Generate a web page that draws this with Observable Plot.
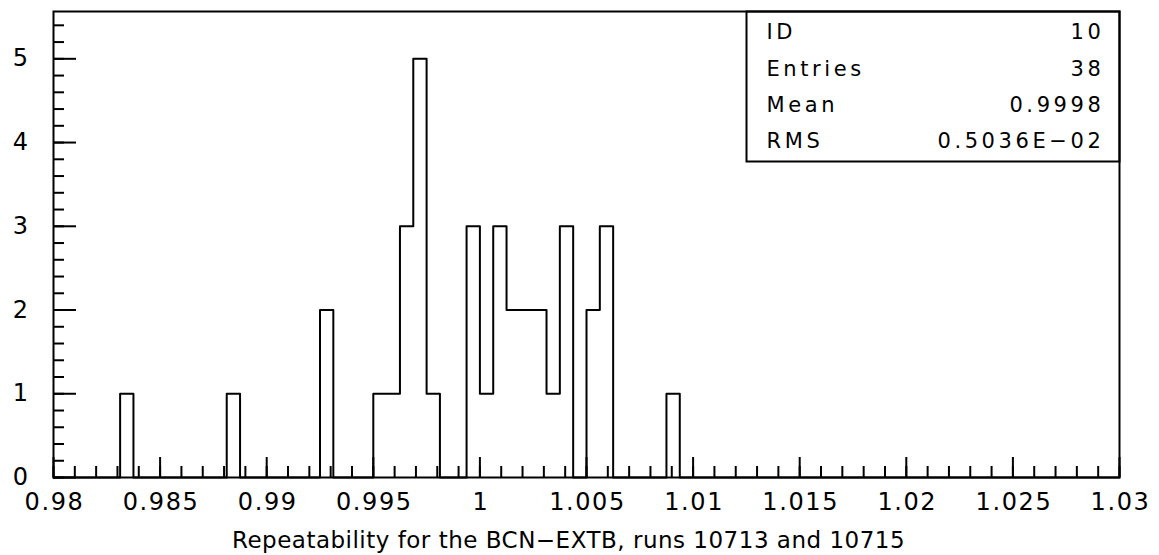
<!DOCTYPE html>
<html>
<head>
<meta charset="utf-8">
<script src="https://cdn.jsdelivr.net/npm/d3@7"></script>
<script src="https://cdn.jsdelivr.net/npm/@observablehq/plot@0.6"></script>
<style>
  html, body { margin: 0; padding: 0; background: #fff; }
  #chart svg { display: block; }
</style>
</head>
<body>
<div id="chart"></div>
<script>
// Histogram ID 10: 80 bins between 0.98 and 1.03
const histLow = 0.98;
const histHigh = 1.03;
const binCounts = [
  0, 0, 0, 0, 0, 1, 0, 0, 0, 0,
  0, 0, 0, 1, 0, 0, 0, 0, 0, 0,
  2, 0, 0, 0, 1, 1, 3, 5, 1, 0,
  0, 3, 1, 3, 2, 2, 2, 1, 3, 0,
  2, 3, 0, 0, 0, 0, 1, 0, 0, 0,
  0, 0, 0, 0, 0, 0, 0, 0, 0, 0,
  0, 0, 0, 0, 0, 0, 0, 0, 0, 0,
  0, 0, 0, 0, 0, 0, 0, 0, 0, 0
];

// Axis ticks and labels
const xMajorTicks = [0.98, 0.985, 0.99, 0.995, 1, 1.005, 1.01, 1.015, 1.02, 1.025, 1.03];
const xTickLabels = ["0.98", "0.985", "0.99", "0.995", "1", "1.005", "1.01", "1.015", "1.02", "1.025", "1.03"];
const yMajorTicks = [0, 1, 2, 3, 4, 5];
const yTickLabels = ["0", "1", "2", "3", "4", "5"];
const yTop = 5.565;

// Statistics box
const statNames = ["ID", "Entries", "Mean", "RMS"];
const statValues = ["10", "38", "0.9998", "0.5036E\u221202"];

const xTitle = "Repeatability for the BCN\u2212EXTB, runs 10713 and 10715";

// Layout
const W = 1159, H = 555;
const mL = 53, mR = 40, mT = 11, mB = 78;
const innerW = W - mL - mR;
const innerH = H - mT - mB;

const binWidth = (histHigh - histLow) / binCounts.length;
const outline = binCounts.map((c, i) => ({x: histLow + i * binWidth, y: c}));
outline.push({x: histHigh, y: 0});

const xMinorTicks = d3.ticks(histLow, histHigh, 50);
const yMinorTicks = d3.ticks(0, 5.4, 27);

const ink = "#000";

// letter spacing per text group, keyed by its font size
const spacingBySize = {"21": "3.6px", "24": "1.6px", "23": "0.5px"};

const chart = Plot.plot({
  width: W,
  height: H,
  marginLeft: mL,
  marginRight: mR,
  marginTop: mT,
  marginBottom: mB,
  x: {domain: [histLow, histHigh], axis: null},
  y: {domain: [0, yTop], axis: null},
  style: {fontFamily: "'DejaVu Sans', sans-serif", background: "#fff", color: ink},
  marks: [
    // inward ticks along the bottom edge
    Plot.ruleX(xMinorTicks, {x: d => d, insetTop: innerH - 11, stroke: ink, strokeWidth: 2}),
    Plot.ruleX(xMajorTicks, {x: d => d, insetTop: innerH - 20, stroke: ink, strokeWidth: 2}),
    // inward ticks along the left edge
    Plot.ruleY(yMinorTicks, {y: d => d, insetRight: innerW - 11, stroke: ink, strokeWidth: 2}),
    Plot.ruleY(yMajorTicks, {y: d => d, insetRight: innerW - 23, stroke: ink, strokeWidth: 2}),
    // histogram outline
    Plot.line(outline, {x: "x", y: "y", curve: "step-after", stroke: ink, strokeWidth: 2}),
    Plot.frame({stroke: ink, strokeWidth: 2}),
    // statistics box in the top-right corner
    Plot.frame({insetLeft: 693, insetBottom: 316, stroke: ink, strokeWidth: 2}),
    Plot.text([statNames.join("\n")], {
      text: d => d, frameAnchor: "top-left", textAnchor: "start", lineAnchor: "top",
      dx: 713, dy: 2, lineHeight: 1.73, fontSize: 21, fill: ink
    }),
    Plot.text([statValues.join("\n")], {
      text: d => d, frameAnchor: "top-right", textAnchor: "end", lineAnchor: "top",
      dx: -15, dy: 2, lineHeight: 1.73, fontSize: 21, fill: ink
    }),
    // tick labels
    Plot.text(xMajorTicks, {
      x: d => d, text: (d, i) => xTickLabels[i], frameAnchor: "bottom", lineAnchor: "top",
      dy: 15, dx: 1, fontSize: 24, fill: ink
    }),
    Plot.text(yMajorTicks, {
      y: d => d, text: (d, i) => yTickLabels[i], frameAnchor: "left", textAnchor: "end",
      dx: -24, fontSize: 24, fill: ink
    }),
    // axis title
    Plot.text([xTitle], {
      text: d => d, frameAnchor: "bottom", lineAnchor: "bottom",
      dx: -18, dy: 70, fontSize: 23, fill: ink
    })
  ]
});

d3.select(chart).selectAll("g[font-size]").each(function() {
  const s = spacingBySize[this.getAttribute("font-size")];
  if (s) d3.select(this).selectAll("text, tspan").style("letter-spacing", s);
});

document.getElementById("chart").appendChild(chart);
</script>
</body>
</html>
